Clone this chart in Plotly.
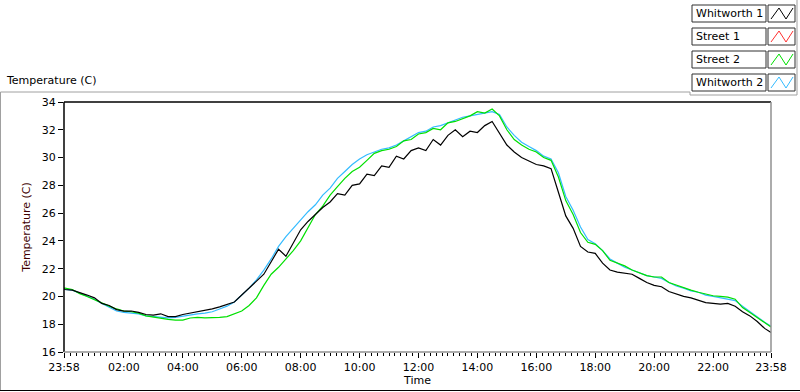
import pandas as pd
import plotly.graph_objects as go

# ---------------- data ----------------
start_time = "2013-01-01 23:58"
end_time = "2013-01-02 23:58"
grid_start = "2013-01-02 00:00"
grid_end = "2013-01-02 23:45"
step = "15min"

tick_vals = ["2013-01-01 23:58", "2013-01-02 02:00", "2013-01-02 04:00", "2013-01-02 06:00",
             "2013-01-02 08:00", "2013-01-02 10:00", "2013-01-02 12:00", "2013-01-02 14:00",
             "2013-01-02 16:00", "2013-01-02 18:00", "2013-01-02 20:00", "2013-01-02 22:00",
             "2013-01-02 23:58"]
tick_text = ["23:58", "02:00", "04:00", "06:00", "08:00", "10:00", "12:00", "14:00",
             "16:00", "18:00", "20:00", "22:00", "23:58"]

whitworth1 = [20.55,
    20.5, 20.45, 20.3, 20.1, 19.9, 19.5, 19.35, 19.05,
    18.95, 18.95, 18.85, 18.7, 18.65, 18.75, 18.55, 18.55,
    18.7, 18.8, 18.9, 18.95, 19.1, 19.25, 19.4, 19.6,
    20.1, 20.6, 21.1, 21.6, 22.5, 23.4, 22.9, 23.9,
    24.8, 25.4, 25.9, 26.4, 26.8, 27.4, 27.3, 28.0,
    28.1, 28.8, 28.7, 29.4, 29.3, 30.1, 29.9, 30.5,
    30.7, 30.5, 31.3, 30.9, 31.6, 32.0, 31.5, 31.9,
    31.8, 32.3, 32.6, 31.7, 30.9, 30.4, 30.0, 29.75,
    29.5, 29.4, 29.2, 27.5, 25.8, 24.9, 23.6, 23.2,
    23.1, 22.4, 21.9, 21.75, 21.7, 21.6, 21.3, 21.0,
    20.8, 20.7, 20.35, 20.15, 20.0, 19.9, 19.7, 19.55,
    19.5, 19.45, 19.5, 19.3, 18.9, 18.6, 18.2, 17.7,
    17.4]

street2 = [20.6,
    20.6, 20.5, 20.2, 20.0, 19.75, 19.55, 19.3, 19.1,
    18.95, 18.9, 18.8, 18.6, 18.5, 18.4, 18.35, 18.3,
    18.3, 18.45, 18.5, 18.45, 18.45, 18.5, 18.55, 18.75,
    18.95, 19.35, 19.9, 20.8, 21.6, 22.1, 22.7, 23.3,
    24.0, 24.9, 25.9, 26.5, 27.3, 27.9, 28.5, 29.0,
    29.3, 29.8, 30.3, 30.5, 30.6, 30.8, 31.2, 31.3,
    31.7, 31.8, 32.1, 32.0, 32.5, 32.6, 32.8, 33.0,
    33.3, 33.2, 33.5, 33.0, 32.0, 31.3, 30.9, 30.6,
    30.4, 30.0, 29.8, 28.6, 26.9, 25.9, 24.6, 23.9,
    23.75, 23.3, 22.6, 22.4, 22.2, 21.9, 21.7, 21.5,
    21.4, 21.4, 21.0, 20.8, 20.6, 20.45, 20.3, 20.15,
    20.05, 20.0, 19.95, 19.8, 19.2, 18.85, 18.5, 18.1,
    17.8]

whitworth2 = [20.55,
    20.5, 20.45, 20.25, 20.0, 19.8, 19.5, 19.2, 18.95,
    18.85, 18.8, 18.75, 18.6, 18.55, 18.45, 18.45, 18.5,
    18.6, 18.7, 18.75, 18.8, 18.9, 19.1, 19.3, 19.6,
    20.1, 20.6, 21.2, 21.9, 22.7, 23.6, 24.3, 24.9,
    25.5, 26.1, 26.6, 27.3, 27.8, 28.5, 29.0, 29.5,
    29.9, 30.2, 30.4, 30.6, 30.7, 30.9, 31.2, 31.5,
    31.8, 31.9, 32.2, 32.3, 32.5, 32.7, 32.9, 33.0,
    33.1, 33.2, 33.3, 33.1, 32.2, 31.6, 31.1, 30.8,
    30.5, 30.1, 29.9, 28.9, 27.2, 26.2, 25.0, 24.1,
    23.8, 23.3, 22.7, 22.4, 22.1, 21.9, 21.7, 21.5,
    21.4, 21.3, 21.0, 20.75, 20.6, 20.4, 20.3, 20.1,
    20.0, 19.9, 19.85, 19.7, 19.3, 18.9, 18.55, 18.15,
    17.85]

legend_names = ["Whitworth 1", "Street 1", "Street 2", "Whitworth 2"]
legend_colors = ["#000000", "#ff3030", "#00e000", "#33bbff"]

times = ([pd.Timestamp(start_time)]
         + list(pd.date_range(grid_start, grid_end, freq=step))
         + [pd.Timestamp(end_time)])

# ---------------- figure ----------------
W, H = 800, 392
L, R, T, B = 64, 771, 102, 352


def fx(px):
    return (px - L) / (R - L)


def fy(py):
    return (B - py) / (B - T)


fig = go.Figure()
for name, ys, col in [("Whitworth 2", whitworth2, legend_colors[3]),
                      ("Street 2", street2, legend_colors[2]),
                      ("Whitworth 1", whitworth1, legend_colors[0])]:
    fig.add_trace(go.Scatter(x=times, y=ys, mode="lines", name=name,
                             line=dict(color=col, width=1.2)))

font = dict(family="DejaVu Sans, Verdana, sans-serif", size=11, color="#000000")

shapes = []
annotations = []


def line(x0, y0, x1, y1, color, width=1):
    shapes.append(dict(type="line", xref="paper", yref="paper",
                       x0=fx(x0), y0=fy(y0), x1=fx(x1), y1=fy(y1),
                       line=dict(color=color, width=width), layer="above"))


# outer frame
line(0.5, 92, 690, 92, "#a0a0a0")
line(690, 92, 690, 95, "#a0a0a0")
line(690, 95, 797, 95, "#a0a0a0")
line(797, 0, 797, 95, "#a0a0a0")
line(0.5, 92, 0.5, 390, "#a0a0a0")
line(0, 390.5, 800, 390.5, "#000000")
# plot frame
line(L, T, R, T, "#000000", 1.5)
line(L, T, L, B, "#000000", 1.5)
line(R, T, R, B, "#909090", 1.5)
line(L, B, R, B, "#909090", 1.5)

# custom legend
for i, (nm, col) in enumerate(zip(legend_names, legend_colors)):
    y0 = 5 + 23 * i
    y1 = y0 + 17
    shapes.append(dict(type="rect", xref="paper", yref="paper",
                       x0=fx(692), x1=fx(766), y0=fy(y1), y1=fy(y0),
                       line=dict(color="#303030", width=1), fillcolor="white"))
    shapes.append(dict(type="rect", xref="paper", yref="paper",
                       x0=fx(768), x1=fx(795), y0=fy(y1), y1=fy(y0),
                       line=dict(color="#303030", width=1), fillcolor="white"))
    pts = [(771, y1 - 3), (779, y0 + 3), (786, y1 - 3), (793, y0 + 3)]
    path = "M " + " L ".join(f"{fx(a)},{fy(b)}" for a, b in pts)
    shapes.append(dict(type="path", xref="paper", yref="paper", path=path,
                       line=dict(color=col, width=1)))
    annotations.append(dict(text=nm, xref="paper", yref="paper",
                            x=fx(694), y=fy((y0 + y1) / 2), xanchor="left",
                            yanchor="middle", showarrow=False, font=font))

annotations.append(dict(text="Temperature (C)", xref="paper", yref="paper",
                        x=fx(4), y=fy(81), xanchor="left", yanchor="middle",
                        showarrow=False, font=font))

fig.update_layout(
    width=W, height=H,
    margin=dict(l=L, r=W - R, t=T, b=H - B, pad=0, autoexpand=False),
    paper_bgcolor="white", plot_bgcolor="white",
    showlegend=False,
    font=font,
    shapes=shapes, annotations=annotations,
    xaxis=dict(
        range=[start_time, end_time], tickvals=tick_vals, ticktext=tick_text,
        ticks="outside", ticklen=5, tickwidth=1, tickcolor="#000000",
        showgrid=False, zeroline=False, showline=False, automargin=False,
        minor=dict(ticks="outside", ticklen=3, tickwidth=1, tickcolor="#000000",
                   dtick=720000, tick0="2013-01-02 00:00", showgrid=False),
        title=dict(text="Time", font=font, standoff=2),
        tickfont=font,
    ),
    yaxis=dict(
        range=[16, 34], dtick=2, tick0=16,
        ticks="outside", ticklen=5, tickwidth=1, tickcolor="#000000",
        showgrid=False, zeroline=False, showline=False, automargin=False,
        title=dict(text="Temperature (C)", font=dict(family=font["family"], size=11, color="#400000"), standoff=8),
        tickfont=font,
    ),
)

fig.write_html("out.html", config={"displayModeBar": False},
               post_script="document.body.style.margin='0';")
